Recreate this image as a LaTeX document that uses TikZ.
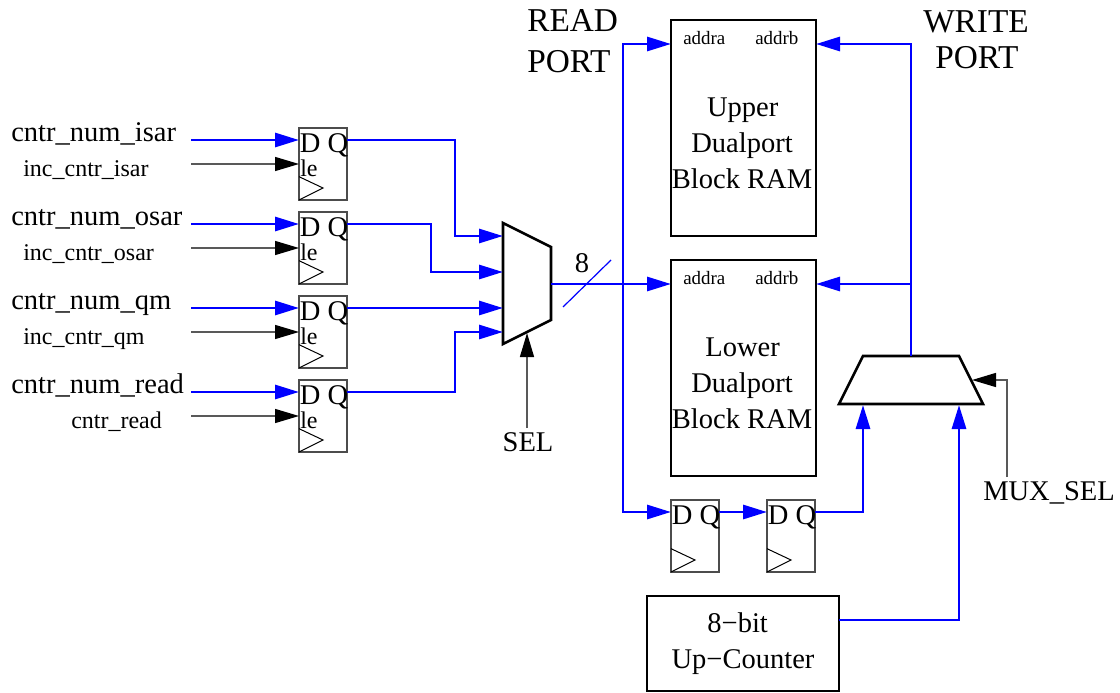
\documentclass[tikz,border=0pt]{standalone}
\usepackage{fontspec}
\setmainfont{Liberation Serif}
\usetikzlibrary{arrows.meta,calc}
\tikzset{
  bluewire/.style={draw={rgb,255:red,0;green,0;blue,255},line width=2.2pt,line join=miter},
  blueflow/.style={bluewire,-{Triangle[length=18pt,width=10.5pt]}},
  blackflow/.style={draw=black!65,line width=1pt,-{Triangle[length=18pt,width=10.5pt,color=black,fill=black]}},
  ffbox/.style={draw=black!70,line width=1pt,anchor=north west,minimum width=36pt,minimum height=54pt,inner sep=0pt,outer sep=0pt},
  rambox/.style={draw=black,line width=1.5pt,anchor=north west,minimum width=108.75pt,minimum height=162pt,inner sep=0pt,outer sep=0pt},
  countbox/.style={draw=black,line width=1.5pt,anchor=north west,minimum width=144pt,minimum height=71.25pt,inner sep=0pt,outer sep=0pt,align=center,font=\fontsize{21.4}{27}\selectfont},
  muxshape/.style={draw=black,line width=1.9pt,line join=miter},
  big/.style={inner sep=0pt,anchor=base west,font=\fontsize{21.4}{27}\selectfont},
  title/.style={inner sep=0pt,anchor=base west,font=\fontsize{25}{30}\selectfont},
  mid/.style={inner sep=0pt,anchor=base west,font=\fontsize{18}{22}\selectfont},
  tiny/.style={inner sep=0pt,anchor=base west,font=\fontsize{14.2}{17}\selectfont},
  ramtext/.style={inner sep=0pt,anchor=center,align=center,font=\fontsize{21.4}{27}\selectfont},
  clock/.style={draw=black,line width=0.75pt}
}
\begin{document}
\begin{tikzpicture}[x=0.75pt,y=-0.75pt]
\useasboundingbox (0,0) rectangle (1120,692);
% flip-flops with load enable
\foreach \n/\y in {1/128,2/212,3/296,4/380}{
  \node[ffbox] (f\n) at (299,\y) {};
  \coordinate (f\n d) at ([yshift=-9pt]f\n.north west);
  \coordinate (f\n e) at ([yshift=-27pt]f\n.north west);
  \coordinate (f\n q) at ([yshift=-9pt]f\n.north east);
  \draw[clock] ([yshift=-36.5pt]f\n.north west) -- ++(18pt,-8.5pt) -- (f\n.south west);
  \node[big] (dq\n) at (299.5,\y+24.5) {D Q};
  \node[mid] (le\n) at (300,\y+48.5) {le};
}
% plain flip-flops
\foreach \n/\x in {5/671,6/767}{
  \node[ffbox] (f\n) at (\x,500) {};
  \coordinate (f\n d) at ([yshift=-9pt]f\n.north west);
  \coordinate (f\n q) at ([yshift=-9pt]f\n.north east);
  \draw[clock] ([yshift=-36.5pt]f\n.north west) -- ++(18pt,-8.5pt) -- (f\n.south west);
  \node[big] (dq\n) at (\x+0.5,524.5) {D Q};
}
% input labels
\node[big] (l1) at (11,141) {cntr\_num\_isar};
\node[mid] (i1) at (23,176.5) {inc\_cntr\_isar};
\node[big] (l2) at (11,225) {cntr\_num\_osar};
\node[mid] (i2) at (23,260.5) {inc\_cntr\_osar};
\node[big] (l3) at (11,309) {cntr\_num\_qm};
\node[mid] (i3) at (23,344.5) {inc\_cntr\_qm};
\node[big] (l4) at (11,393) {cntr\_num\_read};
\node[mid] (i4) at (71,428.5) {cntr\_read};
\foreach \n in {1,2,3,4}{
  \draw[blueflow] (191,0 |- f\n d) -- (f\n d);
  \draw[blackflow] (191,0 |- f\n e) -- (f\n e);
}
% read mux
\coordinate (m1tl) at (503,223);
\coordinate (m1tr) at (551,247);
\coordinate (m1br) at (551,320);
\coordinate (m1bl) at (503,344);
\draw[muxshape] (m1tl) -- (m1tr) -- (m1br) -- (m1bl) -- cycle;
\coordinate (m1a) at (503,236);
\coordinate (m1b) at (503,272);
\coordinate (m1c) at (503,308);
\coordinate (m1d) at (503,332);
\coordinate (m1o) at (551,284);
\coordinate (m1s) at (527,333);
\draw[blueflow] (f1q) -| (455,236) -- (m1a);
\draw[blueflow] (f2q) -| (431,272) -- (m1b);
\draw[blueflow] (f3q) -- (m1c);
\draw[blueflow] (f4q) -| (455,332) -- (m1d);
\node[big,anchor=base] (sel) at (528,451) {SEL};
\draw[blackflow] (527,428) -- (m1s);
% RAMs
\node[rambox] (ru) at (671,20) {};
\node[rambox] (rl) at (671,260) {};
\node[tiny] (ua) at (683,44.5) {addra};
\node[tiny] (ub) at (755,44.5) {addrb};
\node[tiny] (la) at (683,284.5) {addra};
\node[tiny] (lb) at (755,284.5) {addrb};
\node[ramtext] (ut) at (742,143) {\hspace*{1pt}Upper\\Dualport\\Block RAM};
\node[ramtext] (lt) at (742,383) {\hspace*{1pt}Lower\\Dualport\\Block RAM};
\coordinate (rua) at ([yshift=-18pt]ru.north west);
\coordinate (rub) at ([yshift=-18pt]ru.north east);
\coordinate (rla) at ([yshift=-18pt]rl.north west);
\coordinate (rlb) at ([yshift=-18pt]rl.north east);
% read port fan-out
\draw[blueflow] (m1o) -- (rla);
\draw[blueflow] (623,284) |- (rua);
\draw[blueflow] (623,284) |- (f5d);
\draw[blueflow] (f5q) -- (f6d);
\draw[draw={rgb,255:red,0;green,0;blue,255},line width=0.9pt] (563,307) -- (611,260);
\node[big,anchor=base] (eight) at (582,272) {8};
% write mux
\coordinate (m2tl) at (863,356);
\coordinate (m2tr) at (959,356);
\coordinate (m2br) at (983,404);
\coordinate (m2bl) at (839,404);
\draw[muxshape] (m2tl) -- (m2tr) -- (m2br) -- (m2bl) -- cycle;
\coordinate (m2o) at (911,356);
\coordinate (m2a) at (863,405);
\coordinate (m2b) at (959,405);
\coordinate (m2s) at (972,380);
\draw[blueflow] (m2o) -- (911,284) -- (rlb);
\draw[blueflow] (911,284) |- (rub);
\node[countbox] (cnt) at (647,596) {8−bit\hspace*{8pt}\\Up−Counter};
\draw[blueflow] (f6q) -| (m2a);
\draw[blueflow] (cnt.east |- 0,620) -| (m2b);
\node[big] (muxsel) at (983,500) {MUX\_SEL};
\draw[blackflow] (1007,477) |- (m2s);
% port titles
\node[title] (rp1) at (527,32) {READ};
\node[title] (rp2) at (527,73) {PORT};
\node[title] (wp1) at (923,32.5) {WRITE};
\node[title] (wp2) at (935,69) {PORT};
\end{tikzpicture}
\end{document}
